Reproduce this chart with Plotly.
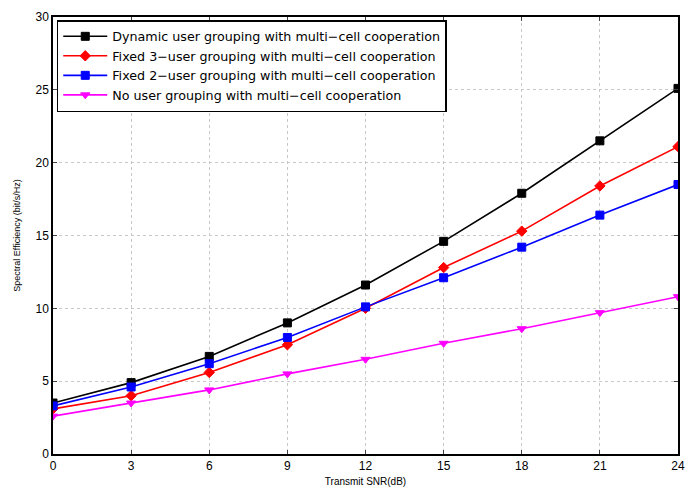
import plotly.graph_objects as go

snr = [0, 3, 6, 9, 12, 15, 18, 21, 24]
dynamic = [3.5, 4.9, 6.7, 9.0, 11.6, 14.6, 17.9, 21.5, 25.1]
fixed3 = [3.1, 4.0, 5.6, 7.5, 10.0, 12.8, 15.3, 18.4, 21.1]
fixed2 = [3.3, 4.6, 6.2, 8.0, 10.1, 12.1, 14.2, 16.4, 18.5]
nogroup = [2.6, 3.5, 4.4, 5.5, 6.5, 7.6, 8.6, 9.7, 10.8]

names = ["Dynamic user grouping with multi\u2212cell cooperation",
         "Fixed 3\u2212user grouping with multi\u2212cell cooperation",
         "Fixed 2\u2212user grouping with multi\u2212cell cooperation",
         "No user grouping with multi\u2212cell cooperation"]
series = [dynamic, fixed3, fixed2, nogroup]
colors = ["#000000", "#ff0000", "#0000ff", "#ff00ff"]
symbols = ["square", "diamond", "square", "triangle-down"]

fig = go.Figure()
for n, y, c, s in zip(names, series, colors, symbols):
    fig.add_trace(go.Scatter(x=snr, y=y, name=n, mode="lines+markers",
                             line=dict(color=c, width=1.6),
                             marker=dict(symbol=s, size=8, color=c,
                                         line=dict(color=c, width=1))))

fig.update_layout(
    width=698, height=487,
    margin=dict(l=45, r=28, t=9, b=41, autoexpand=False),
    paper_bgcolor="white", plot_bgcolor="white",
    font=dict(family="Liberation Sans, Arial, sans-serif", color="#000", size=11),
    showlegend=True,
    legend=dict(x=0.006, y=0.993, xanchor="left", yanchor="top",
                bgcolor="white", bordercolor="#000", borderwidth=1.5,
                font=dict(size=12.7, family="DejaVu Sans, sans-serif"),
                tracegroupgap=0, itemwidth=44),
)
fig.update_xaxes(range=[0, 24], tickvals=snr, ticks="inside", ticklen=4,
                 showline=True, linecolor="#000", linewidth=1.5, mirror="ticks",
                 showgrid=True, gridcolor="#c8c8c8", griddash="dot", gridwidth=1,
                 zeroline=False, tickfont=dict(size=12), automargin=False,
                 title=dict(text="Transmit SNR(dB)", font=dict(size=10), standoff=6))
fig.update_yaxes(range=[0, 30], tickvals=[0, 5, 10, 15, 20, 25, 30], ticks="inside", ticklen=4,
                 showline=True, linecolor="#000", linewidth=1.5, mirror="ticks",
                 showgrid=True, gridcolor="#c8c8c8", griddash="dot", gridwidth=1,
                 zeroline=False, tickfont=dict(size=12), automargin=False,
                 title=dict(text="Spectral Efficiency (bit/s/Hz)", font=dict(size=9), standoff=13))

fig.write_html("out.html")
